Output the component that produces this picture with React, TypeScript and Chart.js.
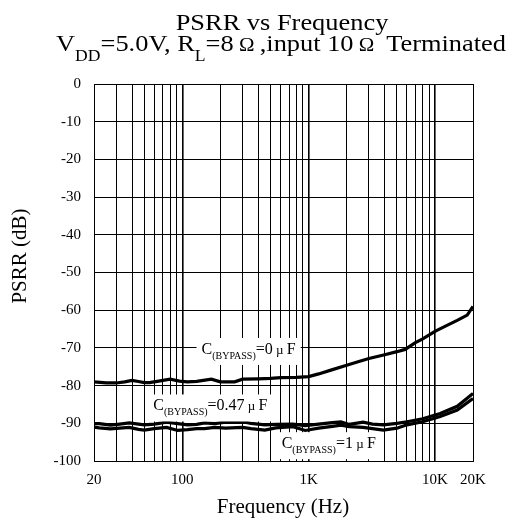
import React, { useEffect, useRef } from "react";
import { Chart, registerables } from "chart.js";

Chart.register(...registerables);

const SERIF = "'Liberation Serif', 'Times New Roman', serif";

// Curve C(BYPASS)=0 µF
const freq0 = [20, 25, 30, 35, 40, 45, 50, 55, 65, 80, 95, 110, 130, 170, 200, 260, 300, 400, 500, 600, 800, 1000, 1200, 1500, 2000, 2500, 3000, 4000, 5000, 5800, 7000, 8000, 10000, 12000, 15000, 18000, 20000];
const psrr0 = [-79.0, -79.3, -79.3, -79.0, -78.6, -78.9, -79.2, -79.2, -78.8, -78.3, -78.8, -79.0, -78.9, -78.3, -79.0, -79.0, -78.3, -78.2, -78.1, -77.9, -77.8, -77.6, -76.9, -75.9, -74.6, -73.6, -72.8, -71.8, -71.0, -70.4, -68.6, -67.6, -65.6, -64.3, -62.7, -61.3, -59.0];

// Curves C(BYPASS)=0.47 µF and 1 µF
const freqLow = [20, 22, 27, 32, 38, 45, 50, 60, 75, 92, 110, 130, 150, 180, 220, 300, 350, 450, 550, 750, 940, 1200, 1540, 1800, 2100, 2700, 3200, 3900, 5000, 6000, 8000, 11000, 15000, 20000];
const psrr047 = [-90.1, -90.1, -90.5, -90.2, -89.9, -90.2, -90.4, -90.2, -89.7, -90.1, -90.4, -90.3, -89.9, -90.1, -89.7, -89.6, -90.0, -90.4, -90.3, -90.2, -90.6, -90.2, -89.8, -89.6, -90.3, -89.7, -90.2, -90.4, -90.0, -89.6, -88.8, -87.4, -85.5, -82.1];
const psrr1 = [-91.0, -91.2, -91.5, -91.3, -91.1, -91.6, -91.8, -91.4, -91.1, -91.9, -91.7, -91.4, -91.4, -91.1, -91.3, -91.1, -91.4, -91.8, -91.2, -90.9, -91.9, -91.3, -90.8, -90.5, -90.9, -91.1, -91.4, -91.8, -91.3, -90.4, -89.6, -88.2, -86.5, -83.4];

// Axis ticks
const gridFreqs = [20, 30, 40, 50, 60, 70, 80, 90, 100, 200, 300, 400, 500, 600, 700, 800, 900, 1000, 2000, 3000, 4000, 5000, 6000, 7000, 8000, 9000, 10000, 20000];
const majorFreqs = [100, 1000, 10000];
const xLabelValues = [20, 100, 1000, 10000, 20000];
const xLabelTexts = ["20", "100", "1K", "10K", "20K"];

// Curve labels (anchor in data coordinates)
const labelCaps = ["0", "0.47", "1"];
const labelFreqs = [142, 59, 612];
const labelDb = [-71.6, -86.6, -96.6];

type Seg = { t: string; s: number; dy?: number };

function drawRich(ctx: CanvasRenderingContext2D, segs: Seg[], x: number, y: number, align: "center" | "left", sx: number) {
  ctx.save();
  ctx.textBaseline = "alphabetic";
  ctx.textAlign = "left";
  let total = 0;
  const widths = segs.map((sg) => {
    ctx.font = `${sg.s}px ${SERIF}`;
    const w = ctx.measureText(sg.t).width;
    total += w;
    return w;
  });
  const x0 = align === "center" ? x - (total * sx) / 2 : x;
  ctx.translate(x0, y);
  ctx.scale(sx, 1);
  let cx = 0;
  segs.forEach((sg, i) => {
    ctx.font = `${sg.s}px ${SERIF}`;
    ctx.fillStyle = "#000";
    ctx.fillText(sg.t, cx, sg.dy || 0);
    cx += widths[i];
  });
  ctx.restore();
  return total * sx;
}

function measureRich(ctx: CanvasRenderingContext2D, segs: Seg[]) {
  let total = 0;
  ctx.save();
  segs.forEach((sg) => {
    ctx.font = `${sg.s}px ${SERIF}`;
    total += ctx.measureText(sg.t).width;
  });
  ctx.restore();
  return total;
}

const textPlugin = {
  id: "psrrText",
  afterDraw(chart: any) {
    const ctx: CanvasRenderingContext2D = chart.ctx;
    const xs = chart.scales.x;
    const ys = chart.scales.y;

    // curve labels with white boxes
    labelCaps.forEach((cap, i) => {
      const px = xs.getPixelForValue(labelFreqs[i]);
      const py = ys.getPixelForValue(labelDb[i]);
      const segs: Seg[] = [
        { t: "C", s: 16 },
        { t: "(BYPASS)", s: 10, dy: 5 },
        { t: "=" + cap, s: 16 },
        { t: " µ ", s: 13 },
        { t: "F", s: 16 },
      ];
      const w = measureRich(ctx, segs);
      ctx.save();
      ctx.fillStyle = "#fff";
      ctx.fillRect(px - 5, py - 16, w + 10, 27);
      ctx.restore();
      drawRich(ctx, segs, px, py, "left", 1);
    });

    // titles
    drawRich(ctx, [{ t: "PSRR vs Frequency", s: 24 }], 282, 30, "center", 1.1);
    drawRich(
      ctx,
      [
        { t: "V", s: 24 },
        { t: "DD", s: 16, dy: 10 },
        { t: "=5.0V, R", s: 24 },
        { t: "L", s: 16, dy: 10 },
        { t: "=8", s: 24 },
        { t: " Ω ", s: 19 },
        { t: ",input 10", s: 24 },
        { t: " Ω ", s: 19 },
        { t: " Terminated", s: 24 },
      ],
      281,
      51,
      "center",
      1.1
    );

    // axis titles
    drawRich(ctx, [{ t: "Frequency (Hz)", s: 20 }], 283, 513, "center", 1.05);
    ctx.save();
    ctx.translate(26, 256);
    ctx.rotate(-Math.PI / 2);
    drawRich(ctx, [{ t: "PSRR (dB)", s: 21 }], 0, 0, "center", 1);
    ctx.restore();
  },
};

export default function App() {
  const ref = useRef<HTMLCanvasElement | null>(null);

  useEffect(() => {
    if (!ref.current) return;
    const toPts = (fs: number[], vs: number[]) => fs.map((f, i) => ({ x: f, y: vs[i] }));
    const line = (label: string, data: any[]) => ({
      label,
      data,
      borderColor: "#000",
      backgroundColor: "#000",
      borderWidth: 3.2,
      pointRadius: 0,
      tension: 0,
      fill: false,
    });
    const chart = new Chart(ref.current, {
      type: "line",
      data: {
        datasets: [
          line("C(BYPASS)=0 µF", toPts(freq0, psrr0)),
          line("C(BYPASS)=0.47 µF", toPts(freqLow, psrr047)),
          line("C(BYPASS)=1 µF", toPts(freqLow, psrr1)),
        ],
      },
      options: {
        animation: false,
        responsive: false,
        maintainAspectRatio: false,
        layout: { padding: { left: 0, right: 42, top: 84, bottom: 0 } },
        plugins: {
          legend: { display: false },
          title: { display: false },
          tooltip: { enabled: false },
        },
        scales: {
          x: {
            type: "logarithmic",
            min: 20,
            max: 20000,
            afterBuildTicks: (scale: any) => {
              scale.ticks = gridFreqs.map((v) => ({ value: v, major: false }));
            },
            afterFit: (scale: any) => {
              scale.height = 63;
            },
            grid: {
              color: "#000",
              lineWidth: (c: any) => (c.tick && majorFreqs.includes(c.tick.value) ? 1.6 : 1),
              drawTicks: false,
            },
            border: { display: true, color: "#000", width: 1 },
            ticks: {
              autoSkip: false,
              maxRotation: 0,
              minRotation: 0,
              padding: 10,
              color: "#000",
              font: { family: SERIF, size: 15 },
              callback: (v: any) => {
                const idx = xLabelValues.indexOf(Number(v));
                return idx >= 0 ? xLabelTexts[idx] : "";
              },
            },
          },
          y: {
            type: "linear",
            min: -100,
            max: 0,
            afterFit: (scale: any) => {
              scale.width = 94;
            },
            grid: { color: "#000", lineWidth: 1, drawTicks: false },
            border: { display: true, color: "#000", width: 1 },
            ticks: {
              stepSize: 10,
              padding: 13,
              color: "#000",
              font: { family: SERIF, size: 15 },
            },
          },
        },
      },
      plugins: [textPlugin],
    } as any);
    return () => chart.destroy();
  }, []);

  return (
    <div style={{ position: "absolute", left: 0, top: 0, width: 515, height: 524, background: "#fff" }}>
      <canvas ref={ref} width={515} height={524} style={{ width: 515, height: 524, display: "block" }} />
    </div>
  );
}
